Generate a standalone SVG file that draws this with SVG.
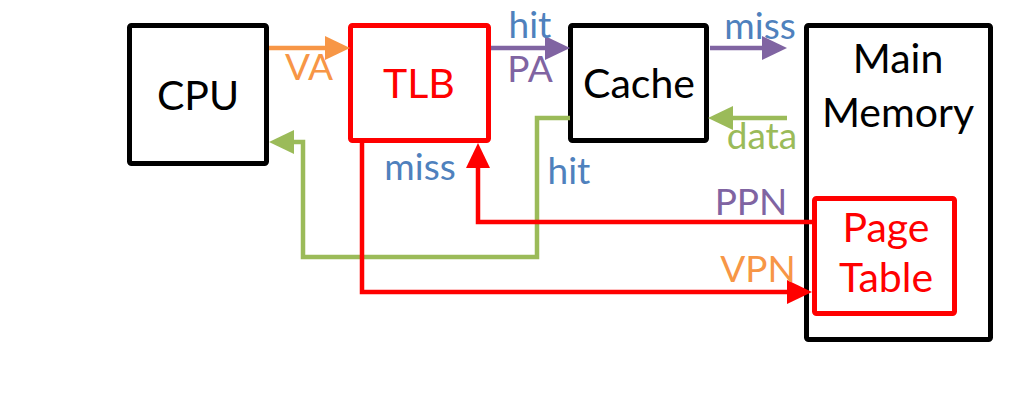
<svg xmlns="http://www.w3.org/2000/svg" width="1021" height="400" viewBox="0 0 1021 400">
<style>
.box{fill:#fff;stroke:#000;stroke-width:5}
.rbox{fill:#fff;stroke:#f00;stroke-width:5}
.t{font-family:Lato,"Liberation Sans",sans-serif;font-size:41px;text-anchor:middle}
.l{font-family:Lato,"Liberation Sans",sans-serif;font-size:37px;text-anchor:middle}
.c{fill:none;stroke-width:4.5;stroke-linejoin:miter}
</style>
<defs>
<marker id="aO" viewBox="0 0 25 24" refX="3" refY="12" markerWidth="25" markerHeight="24" markerUnits="userSpaceOnUse" orient="auto"><path d="M0,0L25,12L0,24z" fill="#F79646"/></marker>
<marker id="aP" viewBox="0 0 25 24" refX="3" refY="12" markerWidth="25" markerHeight="24" markerUnits="userSpaceOnUse" orient="auto"><path d="M0,0L25,12L0,24z" fill="#8064A2"/></marker>
<marker id="aG" viewBox="0 0 25 24" refX="3" refY="12" markerWidth="25" markerHeight="24" markerUnits="userSpaceOnUse" orient="auto"><path d="M0,0L25,12L0,24z" fill="#9BBB59"/></marker>
<marker id="aR" viewBox="0 0 25 24" refX="3" refY="12" markerWidth="25" markerHeight="24" markerUnits="userSpaceOnUse" orient="auto"><path d="M0,0L25,12L0,24z" fill="#FF0000"/></marker>
</defs>
<rect width="1021" height="400" fill="#fff"/>
<g id="cpu"><rect class="box" x="129.5" y="25.5" width="137" height="138" rx="2"/><text class="t" x="198" y="110">CPU</text></g>
<g id="tlb"><rect class="rbox" x="350.5" y="25.5" width="138" height="115" rx="2"/><text class="t" x="419" y="98" fill="#f00">TLB</text></g>
<g id="cache"><rect class="box" x="570.5" y="25.5" width="136" height="115" rx="2"/><text class="t" x="639" y="98">Cache</text></g>
<g id="memory"><rect class="box" x="806.5" y="25.5" width="184" height="314" rx="2"/><text class="t" x="898" y="73">Main</text><text class="t" x="898" y="127">Memory</text></g>
<g id="pagetable"><rect class="rbox" x="814.5" y="198.5" width="140" height="115" rx="2"/><text class="t" x="886" y="242" fill="#f00">Page</text><text class="t" x="886" y="292" fill="#f00">Table</text></g>
<g id="connectors">
<path class="c" stroke="#F79646" d="M269,48H328" marker-end="url(#aO)"/>
<path class="c" stroke="#8064A2" d="M491,48H548" marker-end="url(#aP)"/>
<path class="c" stroke="#8064A2" d="M710,48H765" marker-end="url(#aP)"/>
<path class="c" stroke="#9BBB59" d="M787,118H730" marker-end="url(#aG)"/>
<path class="c" stroke="#9BBB59" d="M570,118H537V257H303V142H291" marker-end="url(#aG)"/>
<path class="c" stroke="#FF0000" d="M362,141V292H790" marker-end="url(#aR)"/>
<path class="c" stroke="#FF0000" d="M812,222H478V165" marker-end="url(#aR)"/>
<text class="l" x="309" y="80" fill="#F79646">VA</text>
<text class="l" x="530" y="38" fill="#4F81BD">hit</text>
<text class="l" x="530" y="82" fill="#8064A2">PA</text>
<text class="l" x="760" y="39" fill="#4F81BD">miss</text>
<text class="l" x="762" y="149" fill="#9BBB59">data</text>
<text class="l" x="569" y="184" fill="#4F81BD">hit</text>
<text class="l" x="420" y="180" fill="#4F81BD">miss</text>
<text class="l" x="751" y="215" fill="#8064A2">PPN</text>
<text class="l" x="758" y="282" fill="#F79646">VPN</text>
</g>
</svg>
